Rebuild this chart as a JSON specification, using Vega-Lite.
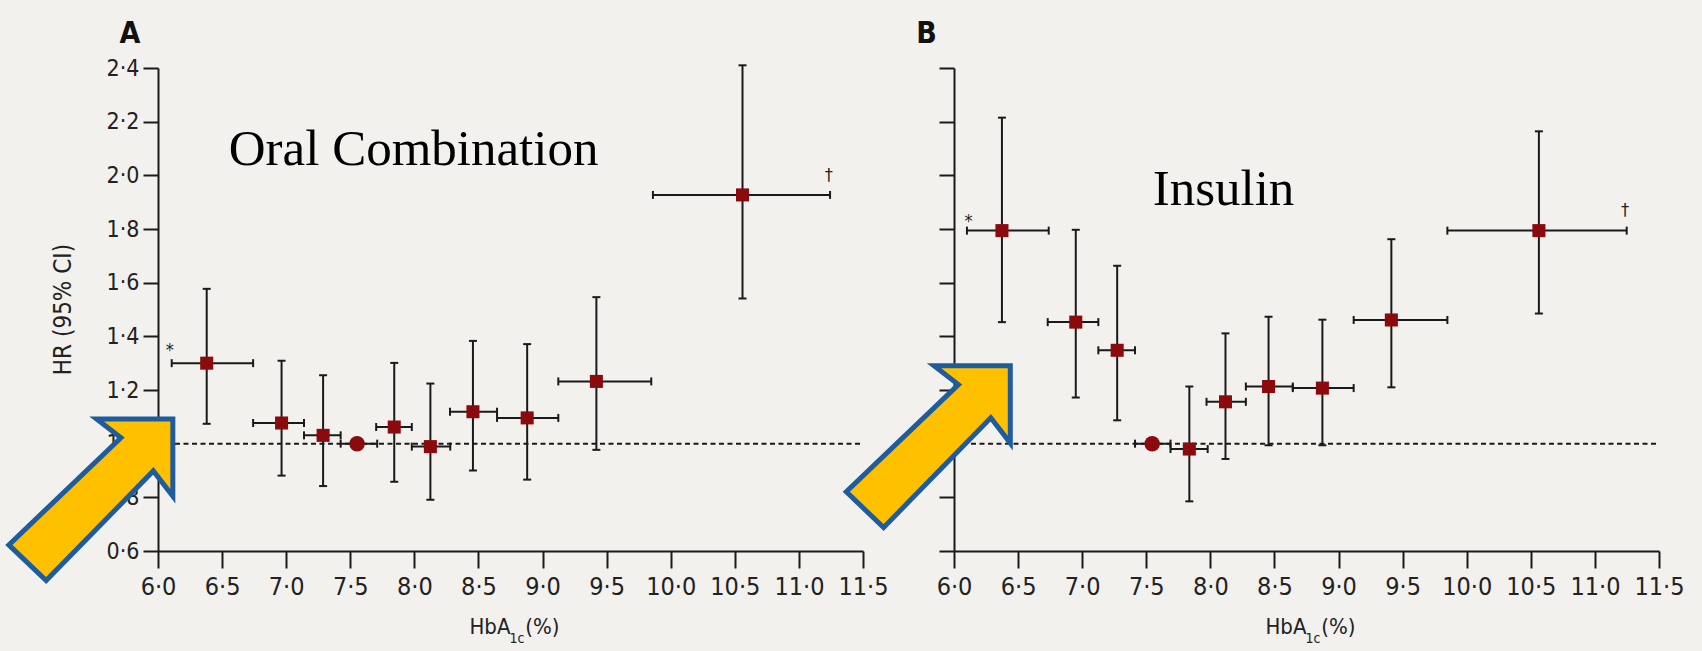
{
  "$schema": "https://vega.github.io/schema/vega-lite/v6.json",
  "autosize": {"type": "none"},
  "padding": {"left": 158, "top": 68, "right": 1544, "bottom": 583},
  "background": "#f2f1ed",
  "bounds": "flush",
  "spacing": 91,
  "config": {
    "view": {"stroke": null},
    "axis": {
      "grid": false,
      "domainColor": "#1a1a1a",
      "domainWidth": 2,
      "tickColor": "#1a1a1a",
      "tickWidth": 2,
      "labelColor": "#222222",
      "labelFont": "'DejaVu Sans Condensed', 'Liberation Sans Narrow', sans-serif",
      "titleFont": "'DejaVu Sans Condensed', 'Liberation Sans Narrow', sans-serif",
      "titleColor": "#222222",
      "titleFontWeight": "normal"
    },
    "axisX": {"tickSize": 17, "labelPadding": 6, "labelFontSize": 25, "labelFlush": false, "labelOverlap": false},
    "axisY": {"tickSize": 15, "labelPadding": 4, "labelFontSize": 23, "titleFontSize": 24, "titleX": -95, "titleY": 241, "titleAngle": -90, "titleAlign": "center", "titleBaseline": "middle", "labelFlush": false, "labelOverlap": false}
  },
  "datasets": {
    "pts": [
      {"panel": "A", "hba": 6.38, "hr": 1.30, "xlo": 6.107, "xhi": 6.742, "lo": 1.074, "hi": 1.577, "ref": false},
      {"panel": "A", "hba": 6.964, "hr": 1.077, "xlo": 6.742, "xhi": 7.139, "lo": 0.881, "hi": 1.309, "ref": false},
      {"panel": "A", "hba": 7.288, "hr": 1.031, "xlo": 7.139, "xhi": 7.425, "lo": 0.842, "hi": 1.255, "ref": false},
      {"panel": "A", "hba": 7.553, "hr": 1.0, "xlo": 7.425, "xhi": 7.71, "lo": null, "hi": null, "ref": true},
      {"panel": "A", "hba": 7.843, "hr": 1.062, "xlo": 7.702, "xhi": 7.98, "lo": 0.858, "hi": 1.301, "ref": false},
      {"panel": "A", "hba": 8.125, "hr": 0.989, "xlo": 7.98, "xhi": 8.28, "lo": 0.791, "hi": 1.224, "ref": false},
      {"panel": "A", "hba": 8.457, "hr": 1.119, "xlo": 8.278, "xhi": 8.645, "lo": 0.90, "hi": 1.383, "ref": false},
      {"panel": "A", "hba": 8.88, "hr": 1.096, "xlo": 8.645, "xhi": 9.123, "lo": 0.866, "hi": 1.371, "ref": false},
      {"panel": "A", "hba": 9.42, "hr": 1.232, "xlo": 9.123, "xhi": 9.848, "lo": 0.977, "hi": 1.546, "ref": false},
      {"panel": "A", "hba": 10.56, "hr": 1.927, "xlo": 9.861, "xhi": 11.243, "lo": 1.541, "hi": 2.41, "ref": false},
      {"panel": "B", "hba": 6.374, "hr": 1.794, "xlo": 6.101, "xhi": 6.739, "lo": 1.453, "hi": 2.215, "ref": false},
      {"panel": "B", "hba": 6.95, "hr": 1.453, "xlo": 6.731, "xhi": 7.126, "lo": 1.172, "hi": 1.797, "ref": false},
      {"panel": "B", "hba": 7.273, "hr": 1.348, "xlo": 7.126, "xhi": 7.412, "lo": 1.087, "hi": 1.663, "ref": false},
      {"panel": "B", "hba": 7.546, "hr": 1.0, "xlo": 7.412, "xhi": 7.689, "lo": null, "hi": null, "ref": true},
      {"panel": "B", "hba": 7.836, "hr": 0.98, "xlo": 7.689, "xhi": 7.979, "lo": 0.785, "hi": 1.213, "ref": false},
      {"panel": "B", "hba": 8.118, "hr": 1.156, "xlo": 7.97, "xhi": 8.277, "lo": 0.943, "hi": 1.411, "ref": false},
      {"panel": "B", "hba": 8.454, "hr": 1.213, "xlo": 8.277, "xhi": 8.643, "lo": 0.994, "hi": 1.473, "ref": false},
      {"panel": "B", "hba": 8.874, "hr": 1.207, "xlo": 8.643, "xhi": 9.118, "lo": 0.994, "hi": 1.462, "ref": false},
      {"panel": "B", "hba": 9.412, "hr": 1.461, "xlo": 9.118, "xhi": 9.849, "lo": 1.21, "hi": 1.762, "ref": false},
      {"panel": "B", "hba": 10.563, "hr": 1.794, "xlo": 9.849, "xhi": 11.248, "lo": 1.485, "hi": 2.164, "ref": false}
    ],
    "refline": [
      {"panel": "A", "x1": 6.0, "x2": 11.5, "y": 1.0},
      {"panel": "B", "x1": 6.0, "x2": 11.5, "y": 1.0}
    ],
    "notes": [
      {"panel": "A", "kind": "title", "x": 6.552, "y": 2.037, "text": "Oral Combination"},
      {"panel": "B", "kind": "title", "x": 7.55, "y": 1.889, "text": "Insulin"},
      {"panel": "A", "kind": "letter", "x": 5.7, "y": 2.494, "text": "A"},
      {"panel": "B", "kind": "letter", "x": 5.705, "y": 2.494, "text": "B"},
      {"panel": "A", "kind": "sym", "x": 6.093, "y": 1.347, "text": "*"},
      {"panel": "B", "kind": "sym", "x": 6.113, "y": 1.827, "text": "*"},
      {"panel": "A", "kind": "sym", "x": 11.233, "y": 1.998, "text": "†"},
      {"panel": "B", "kind": "sym", "x": 11.236, "y": 1.866, "text": "†"},
      {"panel": "A", "kind": "xt", "x": 8.43, "y": 0.289, "text": "HbA"},
      {"panel": "A", "kind": "xt", "x": 8.865, "y": 0.289, "text": "(%)"},
      {"panel": "A", "kind": "sub", "x": 8.742, "y": 0.259, "text": "1c"},
      {"panel": "B", "kind": "xt", "x": 8.43, "y": 0.289, "text": "HbA"},
      {"panel": "B", "kind": "xt", "x": 8.865, "y": 0.289, "text": "(%)"},
      {"panel": "B", "kind": "sub", "x": 8.742, "y": 0.259, "text": "1c"}
    ],
    "arrows": [
      {"panel": "A", "x": 5.476, "y": 0.791},
      {"panel": "B", "x": 5.7995, "y": 0.989}
    ]
  },
  "hconcat": [
    {
      "width": 705,
      "height": 483,
      "layer": [
        {
          "data": {"name": "refline"},
          "transform": [{"filter": "datum.panel == 'A'"}],
          "mark": {"type": "rule", "strokeDash": [5, 3.5], "strokeWidth": 2, "color": "#1a1a1a"},
          "encoding": {
            "x": {"field": "x1", "type": "quantitative", "scale": {"domain": [6, 11.5], "nice": false, "zero": false}, "axis": {"title": null, "values": [6, 6.5, 7, 7.5, 8, 8.5, 9, 9.5, 10, 10.5, 11, 11.5], "labelExpr": "replace(format(datum.value, '.1f'), '.', '·')"}},
            "x2": {"field": "x2"},
            "y": {"field": "y", "type": "quantitative", "scale": {"domain": [0.6, 2.4], "nice": false, "zero": false}, "axis": {"title": "HR (95% CI)", "values": [0.6, 0.8, 1.0, 1.2, 1.4, 1.6, 1.8, 2.0, 2.2, 2.4], "labelExpr": "replace(format(datum.value, '.1f'), '.', '·')"}}
          }
        },
        {
          "data": {"name": "pts"},
          "transform": [{"filter": "datum.panel == 'A'"}],
          "mark": {"type": "rule", "strokeWidth": 2, "color": "#1a1a1a"},
          "encoding": {
            "x": {"field": "xlo", "type": "quantitative", "scale": {"domain": [6, 11.5], "nice": false, "zero": false}, "axis": {"title": null, "values": [6, 6.5, 7, 7.5, 8, 8.5, 9, 9.5, 10, 10.5, 11, 11.5], "labelExpr": "replace(format(datum.value, '.1f'), '.', '·')"}},
            "x2": {"field": "xhi"},
            "y": {"field": "hr", "type": "quantitative", "scale": {"domain": [0.6, 2.4], "nice": false, "zero": false}, "axis": {"title": "HR (95% CI)", "values": [0.6, 0.8, 1.0, 1.2, 1.4, 1.6, 1.8, 2.0, 2.2, 2.4], "labelExpr": "replace(format(datum.value, '.1f'), '.', '·')"}}
          }
        },
        {
          "data": {"name": "pts"},
          "transform": [{"filter": "datum.panel == 'A' && isValid(datum.lo)"}],
          "mark": {"type": "rule", "strokeWidth": 2, "color": "#1a1a1a"},
          "encoding": {
            "x": {"field": "hba", "type": "quantitative", "scale": {"domain": [6, 11.5], "nice": false, "zero": false}, "axis": {"title": null, "values": [6, 6.5, 7, 7.5, 8, 8.5, 9, 9.5, 10, 10.5, 11, 11.5], "labelExpr": "replace(format(datum.value, '.1f'), '.', '·')"}},
            "y": {"field": "lo", "type": "quantitative", "scale": {"domain": [0.6, 2.4], "nice": false, "zero": false}, "axis": {"title": "HR (95% CI)", "values": [0.6, 0.8, 1.0, 1.2, 1.4, 1.6, 1.8, 2.0, 2.2, 2.4], "labelExpr": "replace(format(datum.value, '.1f'), '.', '·')"}},
            "y2": {"field": "hi"}
          }
        },
        {
          "data": {"name": "pts"},
          "transform": [{"filter": "datum.panel == 'A'"}, {"fold": ["xlo", "xhi"], "as": ["end", "val"]}],
          "mark": {"type": "tick", "orient": "vertical", "size": 8, "thickness": 2, "color": "#1a1a1a", "opacity": 1},
          "encoding": {
            "x": {"field": "val", "type": "quantitative", "scale": {"domain": [6, 11.5], "nice": false, "zero": false}, "axis": {"title": null, "values": [6, 6.5, 7, 7.5, 8, 8.5, 9, 9.5, 10, 10.5, 11, 11.5], "labelExpr": "replace(format(datum.value, '.1f'), '.', '·')"}},
            "y": {"field": "hr", "type": "quantitative", "scale": {"domain": [0.6, 2.4], "nice": false, "zero": false}, "axis": {"title": "HR (95% CI)", "values": [0.6, 0.8, 1.0, 1.2, 1.4, 1.6, 1.8, 2.0, 2.2, 2.4], "labelExpr": "replace(format(datum.value, '.1f'), '.', '·')"}}
          }
        },
        {
          "data": {"name": "pts"},
          "transform": [{"filter": "datum.panel == 'A' && isValid(datum.lo)"}, {"fold": ["lo", "hi"], "as": ["end", "val"]}],
          "mark": {"type": "tick", "orient": "horizontal", "size": 8, "thickness": 2, "color": "#1a1a1a", "opacity": 1},
          "encoding": {
            "x": {"field": "hba", "type": "quantitative", "scale": {"domain": [6, 11.5], "nice": false, "zero": false}, "axis": {"title": null, "values": [6, 6.5, 7, 7.5, 8, 8.5, 9, 9.5, 10, 10.5, 11, 11.5], "labelExpr": "replace(format(datum.value, '.1f'), '.', '·')"}},
            "y": {"field": "val", "type": "quantitative", "scale": {"domain": [0.6, 2.4], "nice": false, "zero": false}, "axis": {"title": "HR (95% CI)", "values": [0.6, 0.8, 1.0, 1.2, 1.4, 1.6, 1.8, 2.0, 2.2, 2.4], "labelExpr": "replace(format(datum.value, '.1f'), '.', '·')"}}
          }
        },
        {
          "data": {"name": "pts"},
          "transform": [{"filter": "datum.panel == 'A' && !datum.ref"}],
          "mark": {"type": "square", "size": 170, "color": "#8b0a0d", "opacity": 1},
          "encoding": {
            "x": {"field": "hba", "type": "quantitative", "scale": {"domain": [6, 11.5], "nice": false, "zero": false}, "axis": {"title": null, "values": [6, 6.5, 7, 7.5, 8, 8.5, 9, 9.5, 10, 10.5, 11, 11.5], "labelExpr": "replace(format(datum.value, '.1f'), '.', '·')"}},
            "y": {"field": "hr", "type": "quantitative", "scale": {"domain": [0.6, 2.4], "nice": false, "zero": false}, "axis": {"title": "HR (95% CI)", "values": [0.6, 0.8, 1.0, 1.2, 1.4, 1.6, 1.8, 2.0, 2.2, 2.4], "labelExpr": "replace(format(datum.value, '.1f'), '.', '·')"}}
          }
        },
        {
          "data": {"name": "pts"},
          "transform": [{"filter": "datum.panel == 'A' && datum.ref"}],
          "mark": {"type": "circle", "size": 240, "color": "#8b0a0d", "opacity": 1},
          "encoding": {
            "x": {"field": "hba", "type": "quantitative", "scale": {"domain": [6, 11.5], "nice": false, "zero": false}, "axis": {"title": null, "values": [6, 6.5, 7, 7.5, 8, 8.5, 9, 9.5, 10, 10.5, 11, 11.5], "labelExpr": "replace(format(datum.value, '.1f'), '.', '·')"}},
            "y": {"field": "hr", "type": "quantitative", "scale": {"domain": [0.6, 2.4], "nice": false, "zero": false}, "axis": {"title": "HR (95% CI)", "values": [0.6, 0.8, 1.0, 1.2, 1.4, 1.6, 1.8, 2.0, 2.2, 2.4], "labelExpr": "replace(format(datum.value, '.1f'), '.', '·')"}}
          }
        },
        {
          "data": {"name": "notes"},
          "transform": [{"filter": "datum.panel == 'A' && datum.kind == 'title'"}],
          "mark": {"type": "text", "font": "'Liberation Serif', 'DejaVu Serif', serif", "fontSize": 51, "align": "left", "baseline": "alphabetic", "color": "#000000"},
          "encoding": {
            "x": {"field": "x", "type": "quantitative", "scale": {"domain": [6, 11.5], "nice": false, "zero": false}, "axis": {"title": null, "values": [6, 6.5, 7, 7.5, 8, 8.5, 9, 9.5, 10, 10.5, 11, 11.5], "labelExpr": "replace(format(datum.value, '.1f'), '.', '·')"}},
            "y": {"field": "y", "type": "quantitative", "scale": {"domain": [0.6, 2.4], "nice": false, "zero": false}, "axis": {"title": "HR (95% CI)", "values": [0.6, 0.8, 1.0, 1.2, 1.4, 1.6, 1.8, 2.0, 2.2, 2.4], "labelExpr": "replace(format(datum.value, '.1f'), '.', '·')"}},
            "text": {"field": "text"}
          }
        },
        {
          "data": {"name": "notes"},
          "transform": [{"filter": "datum.panel == 'A' && datum.kind == 'letter'"}],
          "mark": {"type": "text", "font": "'Liberation Sans Narrow', 'DejaVu Sans Condensed', sans-serif", "fontSize": 30, "fontWeight": "bold", "align": "left", "baseline": "alphabetic", "color": "#111111"},
          "encoding": {
            "x": {"field": "x", "type": "quantitative", "scale": {"domain": [6, 11.5], "nice": false, "zero": false}, "axis": {"title": null, "values": [6, 6.5, 7, 7.5, 8, 8.5, 9, 9.5, 10, 10.5, 11, 11.5], "labelExpr": "replace(format(datum.value, '.1f'), '.', '·')"}},
            "y": {"field": "y", "type": "quantitative", "scale": {"domain": [0.6, 2.4], "nice": false, "zero": false}, "axis": {"title": "HR (95% CI)", "values": [0.6, 0.8, 1.0, 1.2, 1.4, 1.6, 1.8, 2.0, 2.2, 2.4], "labelExpr": "replace(format(datum.value, '.1f'), '.', '·')"}},
            "text": {"field": "text"}
          }
        },
        {
          "data": {"name": "notes"},
          "transform": [{"filter": "datum.panel == 'A' && datum.kind == 'sym'"}],
          "mark": {"type": "text", "font": "'DejaVu Sans Condensed', sans-serif", "fontSize": 18, "align": "center", "baseline": "middle", "color": "#222222"},
          "encoding": {
            "x": {"field": "x", "type": "quantitative", "scale": {"domain": [6, 11.5], "nice": false, "zero": false}, "axis": {"title": null, "values": [6, 6.5, 7, 7.5, 8, 8.5, 9, 9.5, 10, 10.5, 11, 11.5], "labelExpr": "replace(format(datum.value, '.1f'), '.', '·')"}},
            "y": {"field": "y", "type": "quantitative", "scale": {"domain": [0.6, 2.4], "nice": false, "zero": false}, "axis": {"title": "HR (95% CI)", "values": [0.6, 0.8, 1.0, 1.2, 1.4, 1.6, 1.8, 2.0, 2.2, 2.4], "labelExpr": "replace(format(datum.value, '.1f'), '.', '·')"}},
            "text": {"field": "text"}
          }
        },
        {
          "data": {"name": "notes"},
          "transform": [{"filter": "datum.panel == 'A' && datum.kind == 'xt'"}],
          "mark": {"type": "text", "font": "'DejaVu Sans Condensed', 'Liberation Sans Narrow', sans-serif", "fontSize": 22, "align": "left", "baseline": "alphabetic", "color": "#222222"},
          "encoding": {
            "x": {"field": "x", "type": "quantitative", "scale": {"domain": [6, 11.5], "nice": false, "zero": false}, "axis": {"title": null, "values": [6, 6.5, 7, 7.5, 8, 8.5, 9, 9.5, 10, 10.5, 11, 11.5], "labelExpr": "replace(format(datum.value, '.1f'), '.', '·')"}},
            "y": {"field": "y", "type": "quantitative", "scale": {"domain": [0.6, 2.4], "nice": false, "zero": false}, "axis": {"title": "HR (95% CI)", "values": [0.6, 0.8, 1.0, 1.2, 1.4, 1.6, 1.8, 2.0, 2.2, 2.4], "labelExpr": "replace(format(datum.value, '.1f'), '.', '·')"}},
            "text": {"field": "text"}
          }
        },
        {
          "data": {"name": "notes"},
          "transform": [{"filter": "datum.panel == 'A' && datum.kind == 'sub'"}],
          "mark": {"type": "text", "font": "'DejaVu Sans Condensed', 'Liberation Sans Narrow', sans-serif", "fontSize": 14, "align": "left", "baseline": "alphabetic", "color": "#222222"},
          "encoding": {
            "x": {"field": "x", "type": "quantitative", "scale": {"domain": [6, 11.5], "nice": false, "zero": false}, "axis": {"title": null, "values": [6, 6.5, 7, 7.5, 8, 8.5, 9, 9.5, 10, 10.5, 11, 11.5], "labelExpr": "replace(format(datum.value, '.1f'), '.', '·')"}},
            "y": {"field": "y", "type": "quantitative", "scale": {"domain": [0.6, 2.4], "nice": false, "zero": false}, "axis": {"title": "HR (95% CI)", "values": [0.6, 0.8, 1.0, 1.2, 1.4, 1.6, 1.8, 2.0, 2.2, 2.4], "labelExpr": "replace(format(datum.value, '.1f'), '.', '·')"}},
            "text": {"field": "text"}
          }
        },
        {
          "data": {"name": "arrows"},
          "transform": [{"filter": "datum.panel == 'A'"}],
          "mark": {"type": "point", "shape": "M0.07,-0.986L1,-0.986L1,-0.043L0.762,-0.352L-0.545,0.986L-1,0.551L0.367,-0.756Z", "size": 26896, "filled": true, "fill": "#ffc000", "stroke": "#1f5c9e", "strokeWidth": 5, "opacity": 1, "fillOpacity": 1, "strokeJoin": "miter"},
          "encoding": {
            "x": {"field": "x", "type": "quantitative", "scale": {"domain": [6, 11.5], "nice": false, "zero": false}, "axis": {"title": null, "values": [6, 6.5, 7, 7.5, 8, 8.5, 9, 9.5, 10, 10.5, 11, 11.5], "labelExpr": "replace(format(datum.value, '.1f'), '.', '·')"}},
            "y": {"field": "y", "type": "quantitative", "scale": {"domain": [0.6, 2.4], "nice": false, "zero": false}, "axis": {"title": "HR (95% CI)", "values": [0.6, 0.8, 1.0, 1.2, 1.4, 1.6, 1.8, 2.0, 2.2, 2.4], "labelExpr": "replace(format(datum.value, '.1f'), '.', '·')"}}
          }
        }
      ]
    },
    {
      "width": 705,
      "height": 483,
      "layer": [
        {
          "data": {"name": "refline"},
          "transform": [{"filter": "datum.panel == 'B'"}],
          "mark": {"type": "rule", "strokeDash": [5, 3.5], "strokeWidth": 2, "color": "#1a1a1a"},
          "encoding": {
            "x": {"field": "x1", "type": "quantitative", "scale": {"domain": [6, 11.5], "nice": false, "zero": false}, "axis": {"title": null, "values": [6, 6.5, 7, 7.5, 8, 8.5, 9, 9.5, 10, 10.5, 11, 11.5], "labelExpr": "replace(format(datum.value, '.1f'), '.', '·')"}},
            "x2": {"field": "x2"},
            "y": {"field": "y", "type": "quantitative", "scale": {"domain": [0.6, 2.4], "nice": false, "zero": false}, "axis": {"title": null, "labels": false, "values": [0.6, 0.8, 1.0, 1.2, 1.4, 1.6, 1.8, 2.0, 2.2, 2.4]}}
          }
        },
        {
          "data": {"name": "pts"},
          "transform": [{"filter": "datum.panel == 'B'"}],
          "mark": {"type": "rule", "strokeWidth": 2, "color": "#1a1a1a"},
          "encoding": {
            "x": {"field": "xlo", "type": "quantitative", "scale": {"domain": [6, 11.5], "nice": false, "zero": false}, "axis": {"title": null, "values": [6, 6.5, 7, 7.5, 8, 8.5, 9, 9.5, 10, 10.5, 11, 11.5], "labelExpr": "replace(format(datum.value, '.1f'), '.', '·')"}},
            "x2": {"field": "xhi"},
            "y": {"field": "hr", "type": "quantitative", "scale": {"domain": [0.6, 2.4], "nice": false, "zero": false}, "axis": {"title": null, "labels": false, "values": [0.6, 0.8, 1.0, 1.2, 1.4, 1.6, 1.8, 2.0, 2.2, 2.4]}}
          }
        },
        {
          "data": {"name": "pts"},
          "transform": [{"filter": "datum.panel == 'B' && isValid(datum.lo)"}],
          "mark": {"type": "rule", "strokeWidth": 2, "color": "#1a1a1a"},
          "encoding": {
            "x": {"field": "hba", "type": "quantitative", "scale": {"domain": [6, 11.5], "nice": false, "zero": false}, "axis": {"title": null, "values": [6, 6.5, 7, 7.5, 8, 8.5, 9, 9.5, 10, 10.5, 11, 11.5], "labelExpr": "replace(format(datum.value, '.1f'), '.', '·')"}},
            "y": {"field": "lo", "type": "quantitative", "scale": {"domain": [0.6, 2.4], "nice": false, "zero": false}, "axis": {"title": null, "labels": false, "values": [0.6, 0.8, 1.0, 1.2, 1.4, 1.6, 1.8, 2.0, 2.2, 2.4]}},
            "y2": {"field": "hi"}
          }
        },
        {
          "data": {"name": "pts"},
          "transform": [{"filter": "datum.panel == 'B'"}, {"fold": ["xlo", "xhi"], "as": ["end", "val"]}],
          "mark": {"type": "tick", "orient": "vertical", "size": 8, "thickness": 2, "color": "#1a1a1a", "opacity": 1},
          "encoding": {
            "x": {"field": "val", "type": "quantitative", "scale": {"domain": [6, 11.5], "nice": false, "zero": false}, "axis": {"title": null, "values": [6, 6.5, 7, 7.5, 8, 8.5, 9, 9.5, 10, 10.5, 11, 11.5], "labelExpr": "replace(format(datum.value, '.1f'), '.', '·')"}},
            "y": {"field": "hr", "type": "quantitative", "scale": {"domain": [0.6, 2.4], "nice": false, "zero": false}, "axis": {"title": null, "labels": false, "values": [0.6, 0.8, 1.0, 1.2, 1.4, 1.6, 1.8, 2.0, 2.2, 2.4]}}
          }
        },
        {
          "data": {"name": "pts"},
          "transform": [{"filter": "datum.panel == 'B' && isValid(datum.lo)"}, {"fold": ["lo", "hi"], "as": ["end", "val"]}],
          "mark": {"type": "tick", "orient": "horizontal", "size": 8, "thickness": 2, "color": "#1a1a1a", "opacity": 1},
          "encoding": {
            "x": {"field": "hba", "type": "quantitative", "scale": {"domain": [6, 11.5], "nice": false, "zero": false}, "axis": {"title": null, "values": [6, 6.5, 7, 7.5, 8, 8.5, 9, 9.5, 10, 10.5, 11, 11.5], "labelExpr": "replace(format(datum.value, '.1f'), '.', '·')"}},
            "y": {"field": "val", "type": "quantitative", "scale": {"domain": [0.6, 2.4], "nice": false, "zero": false}, "axis": {"title": null, "labels": false, "values": [0.6, 0.8, 1.0, 1.2, 1.4, 1.6, 1.8, 2.0, 2.2, 2.4]}}
          }
        },
        {
          "data": {"name": "pts"},
          "transform": [{"filter": "datum.panel == 'B' && !datum.ref"}],
          "mark": {"type": "square", "size": 170, "color": "#8b0a0d", "opacity": 1},
          "encoding": {
            "x": {"field": "hba", "type": "quantitative", "scale": {"domain": [6, 11.5], "nice": false, "zero": false}, "axis": {"title": null, "values": [6, 6.5, 7, 7.5, 8, 8.5, 9, 9.5, 10, 10.5, 11, 11.5], "labelExpr": "replace(format(datum.value, '.1f'), '.', '·')"}},
            "y": {"field": "hr", "type": "quantitative", "scale": {"domain": [0.6, 2.4], "nice": false, "zero": false}, "axis": {"title": null, "labels": false, "values": [0.6, 0.8, 1.0, 1.2, 1.4, 1.6, 1.8, 2.0, 2.2, 2.4]}}
          }
        },
        {
          "data": {"name": "pts"},
          "transform": [{"filter": "datum.panel == 'B' && datum.ref"}],
          "mark": {"type": "circle", "size": 240, "color": "#8b0a0d", "opacity": 1},
          "encoding": {
            "x": {"field": "hba", "type": "quantitative", "scale": {"domain": [6, 11.5], "nice": false, "zero": false}, "axis": {"title": null, "values": [6, 6.5, 7, 7.5, 8, 8.5, 9, 9.5, 10, 10.5, 11, 11.5], "labelExpr": "replace(format(datum.value, '.1f'), '.', '·')"}},
            "y": {"field": "hr", "type": "quantitative", "scale": {"domain": [0.6, 2.4], "nice": false, "zero": false}, "axis": {"title": null, "labels": false, "values": [0.6, 0.8, 1.0, 1.2, 1.4, 1.6, 1.8, 2.0, 2.2, 2.4]}}
          }
        },
        {
          "data": {"name": "notes"},
          "transform": [{"filter": "datum.panel == 'B' && datum.kind == 'title'"}],
          "mark": {"type": "text", "font": "'Liberation Serif', 'DejaVu Serif', serif", "fontSize": 51, "align": "left", "baseline": "alphabetic", "color": "#000000"},
          "encoding": {
            "x": {"field": "x", "type": "quantitative", "scale": {"domain": [6, 11.5], "nice": false, "zero": false}, "axis": {"title": null, "values": [6, 6.5, 7, 7.5, 8, 8.5, 9, 9.5, 10, 10.5, 11, 11.5], "labelExpr": "replace(format(datum.value, '.1f'), '.', '·')"}},
            "y": {"field": "y", "type": "quantitative", "scale": {"domain": [0.6, 2.4], "nice": false, "zero": false}, "axis": {"title": null, "labels": false, "values": [0.6, 0.8, 1.0, 1.2, 1.4, 1.6, 1.8, 2.0, 2.2, 2.4]}},
            "text": {"field": "text"}
          }
        },
        {
          "data": {"name": "notes"},
          "transform": [{"filter": "datum.panel == 'B' && datum.kind == 'letter'"}],
          "mark": {"type": "text", "font": "'Liberation Sans Narrow', 'DejaVu Sans Condensed', sans-serif", "fontSize": 30, "fontWeight": "bold", "align": "left", "baseline": "alphabetic", "color": "#111111"},
          "encoding": {
            "x": {"field": "x", "type": "quantitative", "scale": {"domain": [6, 11.5], "nice": false, "zero": false}, "axis": {"title": null, "values": [6, 6.5, 7, 7.5, 8, 8.5, 9, 9.5, 10, 10.5, 11, 11.5], "labelExpr": "replace(format(datum.value, '.1f'), '.', '·')"}},
            "y": {"field": "y", "type": "quantitative", "scale": {"domain": [0.6, 2.4], "nice": false, "zero": false}, "axis": {"title": null, "labels": false, "values": [0.6, 0.8, 1.0, 1.2, 1.4, 1.6, 1.8, 2.0, 2.2, 2.4]}},
            "text": {"field": "text"}
          }
        },
        {
          "data": {"name": "notes"},
          "transform": [{"filter": "datum.panel == 'B' && datum.kind == 'sym'"}],
          "mark": {"type": "text", "font": "'DejaVu Sans Condensed', sans-serif", "fontSize": 18, "align": "center", "baseline": "middle", "color": "#222222"},
          "encoding": {
            "x": {"field": "x", "type": "quantitative", "scale": {"domain": [6, 11.5], "nice": false, "zero": false}, "axis": {"title": null, "values": [6, 6.5, 7, 7.5, 8, 8.5, 9, 9.5, 10, 10.5, 11, 11.5], "labelExpr": "replace(format(datum.value, '.1f'), '.', '·')"}},
            "y": {"field": "y", "type": "quantitative", "scale": {"domain": [0.6, 2.4], "nice": false, "zero": false}, "axis": {"title": null, "labels": false, "values": [0.6, 0.8, 1.0, 1.2, 1.4, 1.6, 1.8, 2.0, 2.2, 2.4]}},
            "text": {"field": "text"}
          }
        },
        {
          "data": {"name": "notes"},
          "transform": [{"filter": "datum.panel == 'B' && datum.kind == 'xt'"}],
          "mark": {"type": "text", "font": "'DejaVu Sans Condensed', 'Liberation Sans Narrow', sans-serif", "fontSize": 22, "align": "left", "baseline": "alphabetic", "color": "#222222"},
          "encoding": {
            "x": {"field": "x", "type": "quantitative", "scale": {"domain": [6, 11.5], "nice": false, "zero": false}, "axis": {"title": null, "values": [6, 6.5, 7, 7.5, 8, 8.5, 9, 9.5, 10, 10.5, 11, 11.5], "labelExpr": "replace(format(datum.value, '.1f'), '.', '·')"}},
            "y": {"field": "y", "type": "quantitative", "scale": {"domain": [0.6, 2.4], "nice": false, "zero": false}, "axis": {"title": null, "labels": false, "values": [0.6, 0.8, 1.0, 1.2, 1.4, 1.6, 1.8, 2.0, 2.2, 2.4]}},
            "text": {"field": "text"}
          }
        },
        {
          "data": {"name": "notes"},
          "transform": [{"filter": "datum.panel == 'B' && datum.kind == 'sub'"}],
          "mark": {"type": "text", "font": "'DejaVu Sans Condensed', 'Liberation Sans Narrow', sans-serif", "fontSize": 14, "align": "left", "baseline": "alphabetic", "color": "#222222"},
          "encoding": {
            "x": {"field": "x", "type": "quantitative", "scale": {"domain": [6, 11.5], "nice": false, "zero": false}, "axis": {"title": null, "values": [6, 6.5, 7, 7.5, 8, 8.5, 9, 9.5, 10, 10.5, 11, 11.5], "labelExpr": "replace(format(datum.value, '.1f'), '.', '·')"}},
            "y": {"field": "y", "type": "quantitative", "scale": {"domain": [0.6, 2.4], "nice": false, "zero": false}, "axis": {"title": null, "labels": false, "values": [0.6, 0.8, 1.0, 1.2, 1.4, 1.6, 1.8, 2.0, 2.2, 2.4]}},
            "text": {"field": "text"}
          }
        },
        {
          "data": {"name": "arrows"},
          "transform": [{"filter": "datum.panel == 'B'"}],
          "mark": {"type": "point", "shape": "M0.07,-0.986L1,-0.986L1,-0.043L0.762,-0.352L-0.545,0.986L-1,0.551L0.367,-0.756Z", "size": 26896, "filled": true, "fill": "#ffc000", "stroke": "#1f5c9e", "strokeWidth": 5, "opacity": 1, "fillOpacity": 1, "strokeJoin": "miter"},
          "encoding": {
            "x": {"field": "x", "type": "quantitative", "scale": {"domain": [6, 11.5], "nice": false, "zero": false}, "axis": {"title": null, "values": [6, 6.5, 7, 7.5, 8, 8.5, 9, 9.5, 10, 10.5, 11, 11.5], "labelExpr": "replace(format(datum.value, '.1f'), '.', '·')"}},
            "y": {"field": "y", "type": "quantitative", "scale": {"domain": [0.6, 2.4], "nice": false, "zero": false}, "axis": {"title": null, "labels": false, "values": [0.6, 0.8, 1.0, 1.2, 1.4, 1.6, 1.8, 2.0, 2.2, 2.4]}}
          }
        }
      ]
    }
  ]
}
